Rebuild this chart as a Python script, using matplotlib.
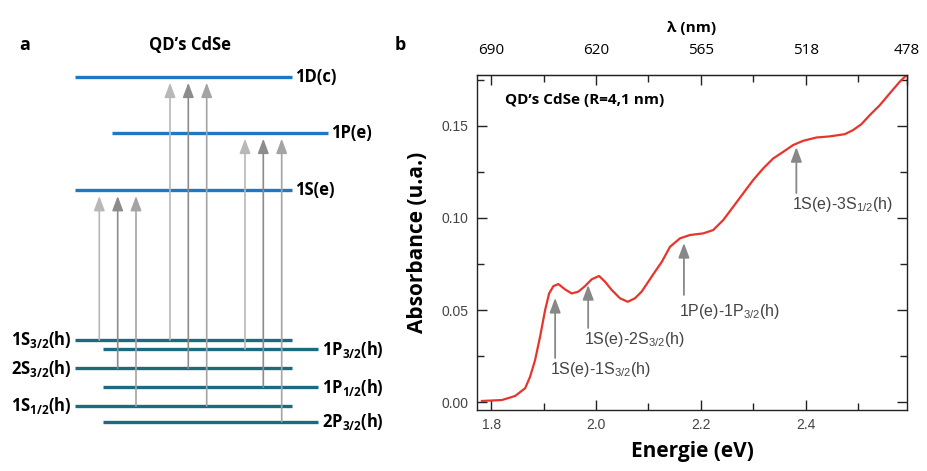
import matplotlib
matplotlib.use("Agg")
import matplotlib.pyplot as plt
import numpy as np
from matplotlib.ticker import FixedLocator, FormatStrFormatter

plt.rcParams['font.family'] = ['Open Sans', 'DejaVu Sans']
plt.rcParams['mathtext.default'] = 'regular'

# ---------------- Panel b data (absorption spectrum) ----------------
energy = [1.7823, 1.8204, 1.8457, 1.8648, 1.8743, 1.8838, 1.8933, 1.9029, 1.9105, 1.9187,
          1.9282, 1.941, 1.9537, 1.9663, 1.979, 1.9918, 2.0057, 2.0171, 2.0299, 2.0457,
          2.0604, 2.0743, 2.087, 2.0997, 2.1124, 2.1251, 2.141, 2.16, 2.179, 2.2044,
          2.2234, 2.2425, 2.2615, 2.2806, 2.2996, 2.3187, 2.3377, 2.3568, 2.3758, 2.3949,
          2.4203, 2.4457, 2.4743, 2.490, 2.506, 2.5219, 2.541, 2.56, 2.579, 2.592]
absorbance = [0.0007, 0.0012, 0.0034, 0.0076, 0.0139, 0.0229, 0.0356, 0.050, 0.059, 0.063,
              0.0641, 0.0612, 0.059, 0.060, 0.063, 0.0667, 0.0685, 0.0654, 0.0609, 0.0564,
              0.0545, 0.0564, 0.060, 0.0654, 0.0708, 0.0760, 0.0843, 0.0889, 0.0907, 0.0916,
              0.0934, 0.0988, 0.106, 0.1133, 0.1205, 0.1268, 0.1322, 0.1358, 0.1395, 0.1418,
              0.1436, 0.1442, 0.1454, 0.1476, 0.1508, 0.1557, 0.1611, 0.1675, 0.1738, 0.1774]

peak_labels = ["1S(e)-1S$_{3/2}$(h)", "1S(e)-2S$_{3/2}$(h)",
               "1P(e)-1P$_{3/2}$(h)", "1S(e)-3S$_{1/2}$(h)"]
peak_energy = [1.922, 1.985, 2.1676, 2.382]
peak_tip = [0.0566, 0.0636, 0.0864, 0.1384]
peak_tail = [0.024, 0.0403, 0.0582, 0.1135]
label_x = [1.913, 1.977, 2.158, 2.373]
label_y = [0.0175, 0.0338, 0.0491, 0.107]

top_tick_energy = [1.8, 2.0, 2.2, 2.4, 2.593]
top_tick_labels = ["690", "620", "565", "518", "478"]

# ---------------- Panel a data (energy levels) ----------------
elec_names = ["1D(c)", "1P(e)", "1S(e)"]
elec_E = [394.3, 338.3, 281.0]
elec_x0 = [75, 112, 75]
elec_x1 = [292, 328, 292]

hole_names = ["1S$_{3/2}$(h)", "1P$_{3/2}$(h)", "2S$_{3/2}$(h)",
              "1P$_{1/2}$(h)", "1S$_{1/2}$(h)", "2P$_{3/2}$(h)"]
hole_E = [131.0, 122.0, 102.7, 83.7, 65.0, 49.3]
hole_x0 = [75, 103, 75, 103, 75, 103]
hole_x1 = [292, 318, 292, 318, 292, 318]
hole_side = ["left", "right", "left", "right", "left", "right"]

trans_x = [99.3, 117.7, 136.0, 170.0, 188.3, 206.7, 245.0, 263.3, 281.7]
trans_from = ["1S$_{3/2}$(h)", "2S$_{3/2}$(h)", "1S$_{1/2}$(h)",
              "1S$_{3/2}$(h)", "2S$_{3/2}$(h)", "1S$_{1/2}$(h)",
              "1P$_{3/2}$(h)", "1P$_{1/2}$(h)", "2P$_{3/2}$(h)"]
trans_to = ["1S(e)", "1S(e)", "1S(e)", "1D(c)", "1D(c)", "1D(c)",
            "1P(e)", "1P(e)", "1P(e)"]
trans_color = ["#b8b8b8", "#8c8c8c", "#a4a4a4"] * 3

fig = plt.figure(figsize=(9.28, 4.71), dpi=100)

# ---------------- Panel a ----------------
axa = fig.add_axes([0, 0, 400 / 928, 1])
axa.set_xlim(0, 400)
axa.set_ylim(0, 471)
axa.axis('off')

blue = "#1f78c4"
teal = "#1b6a80"
for n, e, x0, x1 in zip(elec_names, elec_E, elec_x0, elec_x1):
    axa.plot([x0, x1], [e, e], color=blue, lw=2.4, solid_capstyle='butt')
    axa.text(x1 + 3, e, n, fontsize=12, fontweight='bold', va='center', ha='left')

for n, e, x0, x1, s in zip(hole_names, hole_E, hole_x0, hole_x1, hole_side):
    axa.plot([x0, x1], [e, e], color=teal, lw=2.4, solid_capstyle='butt')
    if s == "left":
        axa.text(x0 - 3, e, n, fontsize=12, fontweight='bold', va='center', ha='right')
    else:
        axa.text(x1 + 4, e, n, fontsize=12, fontweight='bold', va='center', ha='left')

level_E = dict(zip(elec_names + hole_names, elec_E + hole_E))
for x, f, t, c in zip(trans_x, trans_from, trans_to, trans_color):
    axa.annotate("", xy=(x, level_E[t] - 6), xytext=(x, level_E[f]),
                 arrowprops=dict(arrowstyle="-|>,head_length=0.8,head_width=0.3",
                                 color=c, lw=1.2, shrinkA=0, shrinkB=0,
                                 mutation_scale=11))

axa.text(25, 471 - 45, "a", fontsize=13, fontweight='bold', ha='center', va='center')
axa.text(190, 471 - 45, "QD\u2019s CdSe", fontsize=12, fontweight='bold', ha='center', va='center')

# ---------------- Panel b ----------------
axb = fig.add_axes([477 / 928, 61 / 471, 430 / 928, 335 / 471])
axb.plot(energy, absorbance, color="#e8352b", lw=1.6)
axb.set_xlim(1.773, 2.593)
axb.set_ylim(-0.0042, 0.1775)

axb.xaxis.set_major_locator(FixedLocator([1.8, 2.0, 2.2, 2.4]))
axb.xaxis.set_minor_locator(FixedLocator([1.9, 2.1, 2.3, 2.5]))
axb.xaxis.set_major_formatter(FormatStrFormatter('%.1f'))
axb.yaxis.set_major_locator(FixedLocator([0.0, 0.05, 0.10, 0.15]))
axb.yaxis.set_minor_locator(FixedLocator([0.025, 0.075, 0.125, 0.175]))
axb.yaxis.set_major_formatter(FormatStrFormatter('%.2f'))
axb.tick_params(which='both', direction='in', top=False, right=True,
                color='#222222', width=1.0)
axb.tick_params(which='major', length=7)
axb.tick_params(which='minor', length=5)
axb.tick_params(axis='x', which='major', pad=6)
axb.tick_params(axis='y', which='major', pad=6)
for lab in axb.get_xticklabels() + axb.get_yticklabels():
    lab.set_fontfamily(['Liberation Sans', 'DejaVu Sans'])
    lab.set_fontsize(10)
    lab.set_color('#444444')
for sp in axb.spines.values():
    sp.set_color('#222222')
    sp.set_linewidth(1.0)

axb.set_xlabel("Energie (eV)", fontsize=15, fontweight='bold', labelpad=6)
axb.set_ylabel("Absorbance (u.a.)", fontsize=15, fontweight='bold', labelpad=10)

top = axb.secondary_xaxis('top')
top.xaxis.set_major_locator(FixedLocator(top_tick_energy))
top.xaxis.set_minor_locator(FixedLocator([1.9, 2.1, 2.3, 2.5]))
top.set_xticklabels(top_tick_labels, fontsize=11)
top.tick_params(which='both', direction='in', color='#222222', width=1.0, pad=12)
top.tick_params(which='major', length=7)
top.tick_params(which='minor', length=5)
top.spines['top'].set_color('#222222')
top.set_xlabel("\u03bb (nm)", fontsize=11, fontweight='bold', labelpad=8)

for lab, xe, tip, tail, lx, ly in zip(peak_labels, peak_energy, peak_tip, peak_tail, label_x, label_y):
    axb.annotate("", xy=(xe, tip), xytext=(xe, tail),
                 arrowprops=dict(arrowstyle="-|>,head_length=0.8,head_width=0.3",
                                 color="#888888", lw=1.3, shrinkA=0, shrinkB=0,
                                 mutation_scale=11))
    axb.text(lx, ly, lab, fontsize=11.5, color='#444444', ha='left', va='center',
             family=['Liberation Sans', 'DejaVu Sans'])

axb.text(1.827, 0.1638, "QD\u2019s CdSe (R=4,1 nm)", fontsize=11, fontweight='bold',
         ha='left', va='center')

fig.text(400 / 928, 1 - 45 / 471, "b", fontsize=13, fontweight='bold', ha='center', va='center')

fig.savefig("out.png", dpi=100)
